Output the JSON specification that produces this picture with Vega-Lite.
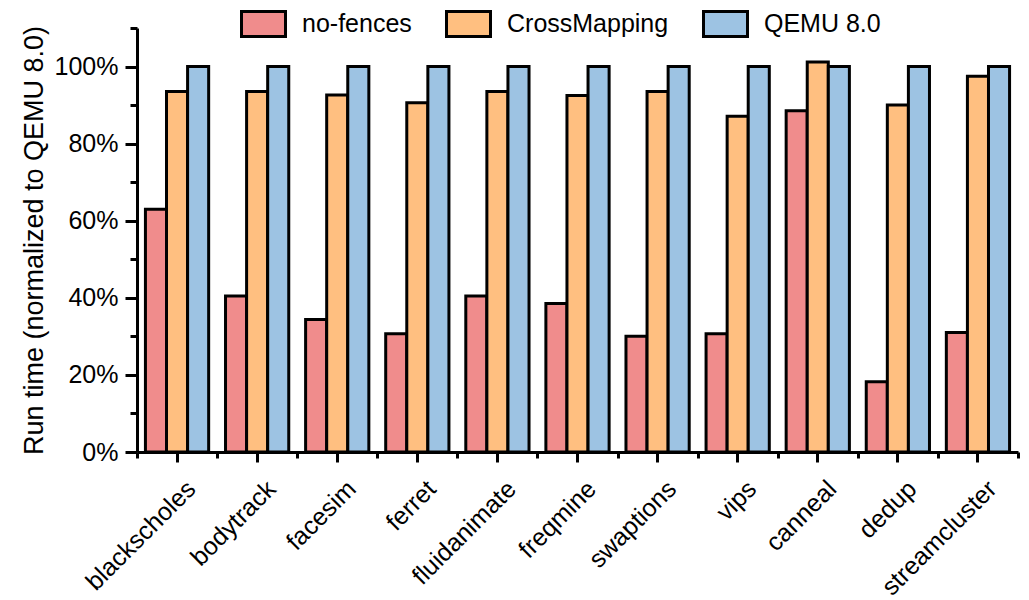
{
  "$schema": "https://vega.github.io/schema/vega-lite/v6.json",
  "width": 881,
  "height": 424,
  "autosize": {"type": "none"},
  "padding": {"left": 137, "top": 28, "right": 11, "bottom": 148},
  "background": "white",
  "config": {"view": {"stroke": null}, "font": "Liberation Sans"},
  "data": {
    "values": [
      {"benchmark": "blackscholes", "config": "no-fences", "value": 63.0},
      {"benchmark": "blackscholes", "config": "CrossMapping", "value": 93.5},
      {"benchmark": "blackscholes", "config": "QEMU 8.0", "value": 100},
      {"benchmark": "bodytrack", "config": "no-fences", "value": 40.5},
      {"benchmark": "bodytrack", "config": "CrossMapping", "value": 93.5},
      {"benchmark": "bodytrack", "config": "QEMU 8.0", "value": 100},
      {"benchmark": "facesim", "config": "no-fences", "value": 34.4},
      {"benchmark": "facesim", "config": "CrossMapping", "value": 92.6},
      {"benchmark": "facesim", "config": "QEMU 8.0", "value": 100},
      {"benchmark": "ferret", "config": "no-fences", "value": 30.7},
      {"benchmark": "ferret", "config": "CrossMapping", "value": 90.6},
      {"benchmark": "ferret", "config": "QEMU 8.0", "value": 100},
      {"benchmark": "fluidanimate", "config": "no-fences", "value": 40.5},
      {"benchmark": "fluidanimate", "config": "CrossMapping", "value": 93.5},
      {"benchmark": "fluidanimate", "config": "QEMU 8.0", "value": 100},
      {"benchmark": "freqmine", "config": "no-fences", "value": 38.5},
      {"benchmark": "freqmine", "config": "CrossMapping", "value": 92.5},
      {"benchmark": "freqmine", "config": "QEMU 8.0", "value": 100},
      {"benchmark": "swaptions", "config": "no-fences", "value": 30.0},
      {"benchmark": "swaptions", "config": "CrossMapping", "value": 93.5},
      {"benchmark": "swaptions", "config": "QEMU 8.0", "value": 100},
      {"benchmark": "vips", "config": "no-fences", "value": 30.7},
      {"benchmark": "vips", "config": "CrossMapping", "value": 87.1},
      {"benchmark": "vips", "config": "QEMU 8.0", "value": 100},
      {"benchmark": "canneal", "config": "no-fences", "value": 88.5},
      {"benchmark": "canneal", "config": "CrossMapping", "value": 101.2},
      {"benchmark": "canneal", "config": "QEMU 8.0", "value": 100},
      {"benchmark": "dedup", "config": "no-fences", "value": 18.2},
      {"benchmark": "dedup", "config": "CrossMapping", "value": 90.0},
      {"benchmark": "dedup", "config": "QEMU 8.0", "value": 100},
      {"benchmark": "streamcluster", "config": "no-fences", "value": 31.0},
      {"benchmark": "streamcluster", "config": "CrossMapping", "value": 97.5},
      {"benchmark": "streamcluster", "config": "QEMU 8.0", "value": 100}
    ]
  },
  "encoding": {
    "y": {
      "field": "value",
      "type": "quantitative",
      "scale": {"domain": [0, 110], "nice": false},
      "axis": {
        "title": "Run time (normalized to QEMU 8.0)",
        "titleFontSize": 27,
        "titleFontWeight": "normal",
        "titleColor": "black",
        "titlePadding": 6,
        "values": [0, 10, 20, 30, 40, 50, 60, 70, 80, 90, 100, 110],
        "labelExpr": "datum.value % 20 == 0 && datum.value <= 100 ? datum.value + '%' : ''",
        "labelFontSize": 25,
        "labelColor": "black",
        "labelPadding": 7,
        "domainColor": "black",
        "domainWidth": 3,
        "tickColor": "black",
        "tickWidth": 3,
        "tickSize": {"condition": {"test": "datum.value % 20 != 0", "value": 7}, "value": 12},
        "grid": false
      }
    }
  },
  "layer": [
    {
      "mark": {"type": "bar", "opacity": 0},
      "encoding": {
        "x": {
          "field": "benchmark",
          "type": "nominal",
          "sort": null,
          "scale": {"paddingInner": 0, "paddingOuter": 0},
          "axis": {
            "orient": "bottom",
            "title": null,
            "labels": false,
            "domain": false,
            "tickBand": "extent",
            "tickColor": "black",
            "tickWidth": 3,
            "tickSize": 6,
            "grid": false
          }
        }
      }
    },
    {
      "mark": {"type": "bar", "stroke": "black", "strokeWidth": 3, "opacity": 1},
      "encoding": {
        "x": {
          "field": "benchmark",
          "type": "nominal",
          "sort": null,
          "axis": {
            "orient": "bottom",
            "title": null,
            "domainColor": "black",
            "domainWidth": 3,
            "tickColor": "black",
            "tickWidth": 3,
            "tickSize": 10,
            "labelAngle": -45,
            "labelFontSize": 25,
            "labelColor": "black",
            "labelPadding": 14,
            "labelOffset": 6,
            "grid": false
          }
        },
        "xOffset": {
          "field": "config",
          "type": "nominal",
          "sort": ["no-fences", "CrossMapping", "QEMU 8.0"],
          "scale": {"paddingInner": 0, "paddingOuter": 0.4}
        },
        "color": {
          "field": "config",
          "type": "nominal",
          "sort": ["no-fences", "CrossMapping", "QEMU 8.0"],
          "scale": {
            "domain": ["no-fences", "CrossMapping", "QEMU 8.0"],
            "range": ["#F08C8C", "#FFBF80", "#9DC3E3"]
          },
          "legend": {
            "orient": "none",
            "legendX": 103,
            "legendY": -28,
            "direction": "horizontal",
            "title": null,
            "padding": 0,
            "symbolType": "M-1,-0.57H1V0.57H-1Z",
            "symbolSize": 1936,
            "symbolStrokeColor": "black",
            "symbolStrokeWidth": 3,
            "symbolOpacity": 1,
            "labelFontSize": 25,
            "labelColor": "black",
            "labelOffset": 15,
            "labelLimit": 400,
            "columnPadding": 28
          }
        }
      }
    }
  ],
  "resolve": {"axis": {"x": "independent"}}
}
